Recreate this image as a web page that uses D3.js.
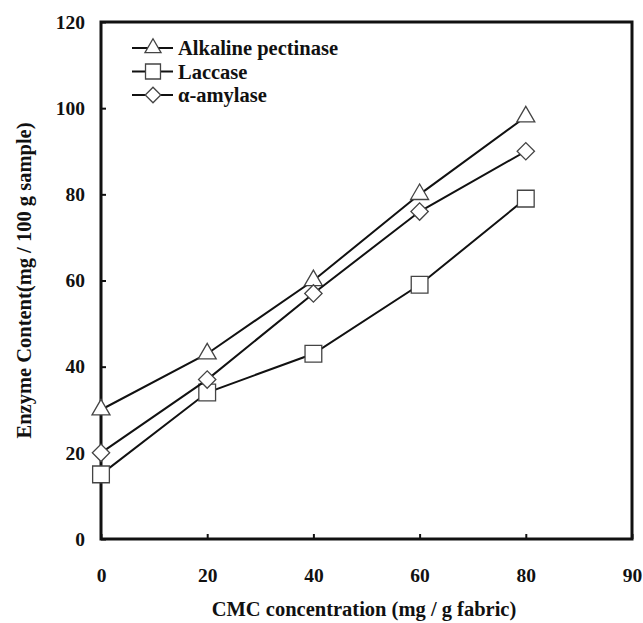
<!DOCTYPE html>
<html>
<head>
<meta charset="utf-8">
<script src="https://cdn.jsdelivr.net/npm/d3@7"></script>
<style>
  body { margin: 0; background: #fff; }
  svg { display: block; }
  text { font-family: "Liberation Serif", "Times New Roman", serif; font-weight: bold; fill: #111; }
</style>
</head>
<body>
<svg class="chart"></svg>
<script>
var width = 643,
    height = 623;

// data
var concentrations = [0, 20, 40, 60, 80];
var pectinase = [30, 43, 60, 80, 98];
var laccase = [15, 34, 43, 59, 79];
var amylase = [20, 37, 57, 76, 90];

var xTicks = [0, 20, 40, 60, 80, 100];
var xTickLabels = ["0", "20", "40", "60", "80", "90"];
var yTicks = [0, 20, 40, 60, 80, 100, 120];

var seriesNames = ["Alkaline pectinase", "Laccase", "\u03b1-amylase"];
// diamond is a square turned 45 degrees
var seriesSymbols = [d3.symbolTriangle, d3.symbolSquare, d3.symbolSquare];
var seriesRotate = [0, 0, 45];
var seriesSizes = [140, 280, 150];

var series = [pectinase, laccase, amylase].map(function(vals, i) {
    return {
        name: seriesNames[i],
        symbol: seriesSymbols[i],
        rotate: seriesRotate[i],
        size: seriesSizes[i],
        values: vals.map(function(v, j) { return { x: concentrations[j], y: v }; })
    };
});

// plot box (window.top is taken, so no "top" here)
var plotLeft = 101, plotRight = 632, plotTop = 22, plotBottom = 539;

var svg = d3.select(".chart")
    .attr("width", width)
    .attr("height", height);

var x = d3.scaleLinear().domain([0, 100]).range([plotLeft, plotRight]);
var y = d3.scaleLinear().domain([0, 120]).range([plotBottom, plotTop]);

var xAxis = d3.axisBottom(x)
    .tickValues(xTicks)
    .tickFormat(function(d, i) { return xTickLabels[i]; })
    .tickSizeInner(-5)
    .tickSizeOuter(0)
    .tickPadding(29);

var yAxis = d3.axisLeft(y)
    .tickValues(yTicks)
    .tickSizeInner(-5)
    .tickSizeOuter(0)
    .tickPadding(16);

var gx = svg.append("g")
    .attr("transform", "translate(0," + plotBottom + ")")
    .call(xAxis);

var gy = svg.append("g")
    .attr("transform", "translate(" + plotLeft + ",0)")
    .call(yAxis);

[gx, gy].forEach(function(g) {
    g.select(".domain").remove();
    g.selectAll(".tick line").attr("stroke", "#111").attr("stroke-width", 2);
    g.selectAll(".tick text")
        .attr("font-size", 19.5)
        .attr("font-family", "Liberation Serif, Times New Roman, serif")
        .attr("font-weight", "bold")
        .attr("fill", "#111");
});

// frame
svg.append("rect")
    .attr("x", plotLeft)
    .attr("y", plotTop)
    .attr("width", plotRight - plotLeft)
    .attr("height", plotBottom - plotTop)
    .attr("fill", "none")
    .attr("stroke", "#111")
    .attr("stroke-width", 3);

var line = d3.line()
    .x(function(d) { return x(d.x); })
    .y(function(d) { return y(d.y); });

var sg = svg.selectAll(".series")
    .data(series)
    .enter()
    .append("g")
    .attr("class", "series");

sg.append("path")
    .attr("d", function(d) { return line(d.values); })
    .attr("fill", "none")
    .attr("stroke", "#111")
    .attr("stroke-width", 2);

sg.selectAll(".marker")
    .data(function(d) { return d.values.map(function(v) { return { s: d, v: v }; }); })
    .enter()
    .append("path")
    .attr("class", "marker")
    .attr("transform", function(d) {
        return "translate(" + x(d.v.x) + "," + y(d.v.y) + ") rotate(" + d.s.rotate + ")";
    })
    .attr("d", function(d) { return d3.symbol().type(d.s.symbol).size(d.s.size)(); })
    .attr("fill", "#fff")
    .attr("stroke", "#444")
    .attr("stroke-width", 1.3);

// legend
var legend = svg.append("g")
    .selectAll(".legend")
    .data(series)
    .enter()
    .append("g")
    .attr("class", "legend")
    .attr("transform", function(d, i) { return "translate(153," + (48 + i * 23.5) + ")"; });

legend.append("line")
    .attr("x1", -21)
    .attr("x2", 20)
    .attr("stroke", "#111")
    .attr("stroke-width", 2);

legend.append("path")
    .attr("transform", function(d) { return "rotate(" + d.rotate + ")"; })
    .attr("d", function(d) { return d3.symbol().type(d.symbol).size(d.size * 0.8)(); })
    .attr("fill", "#fff")
    .attr("stroke", "#444")
    .attr("stroke-width", 1.3);

legend.append("text")
    .attr("x", 25)
    .attr("dy", "0.35em")
    .attr("font-size", 20.5)
    .text(function(d) { return d.name; });

// axis titles
svg.append("text")
    .attr("x", 364)
    .attr("y", 616)
    .attr("text-anchor", "middle")
    .attr("font-size", 20.5)
    .text("CMC concentration (mg / g fabric)");

svg.append("text")
    .attr("transform", "translate(31," + ((plotTop + plotBottom) / 2) + ") rotate(-90)")
    .attr("text-anchor", "middle")
    .attr("font-size", 20.5)
    .text("Enzyme Content(mg / 100 g sample)");
</script>
</body>
</html>
